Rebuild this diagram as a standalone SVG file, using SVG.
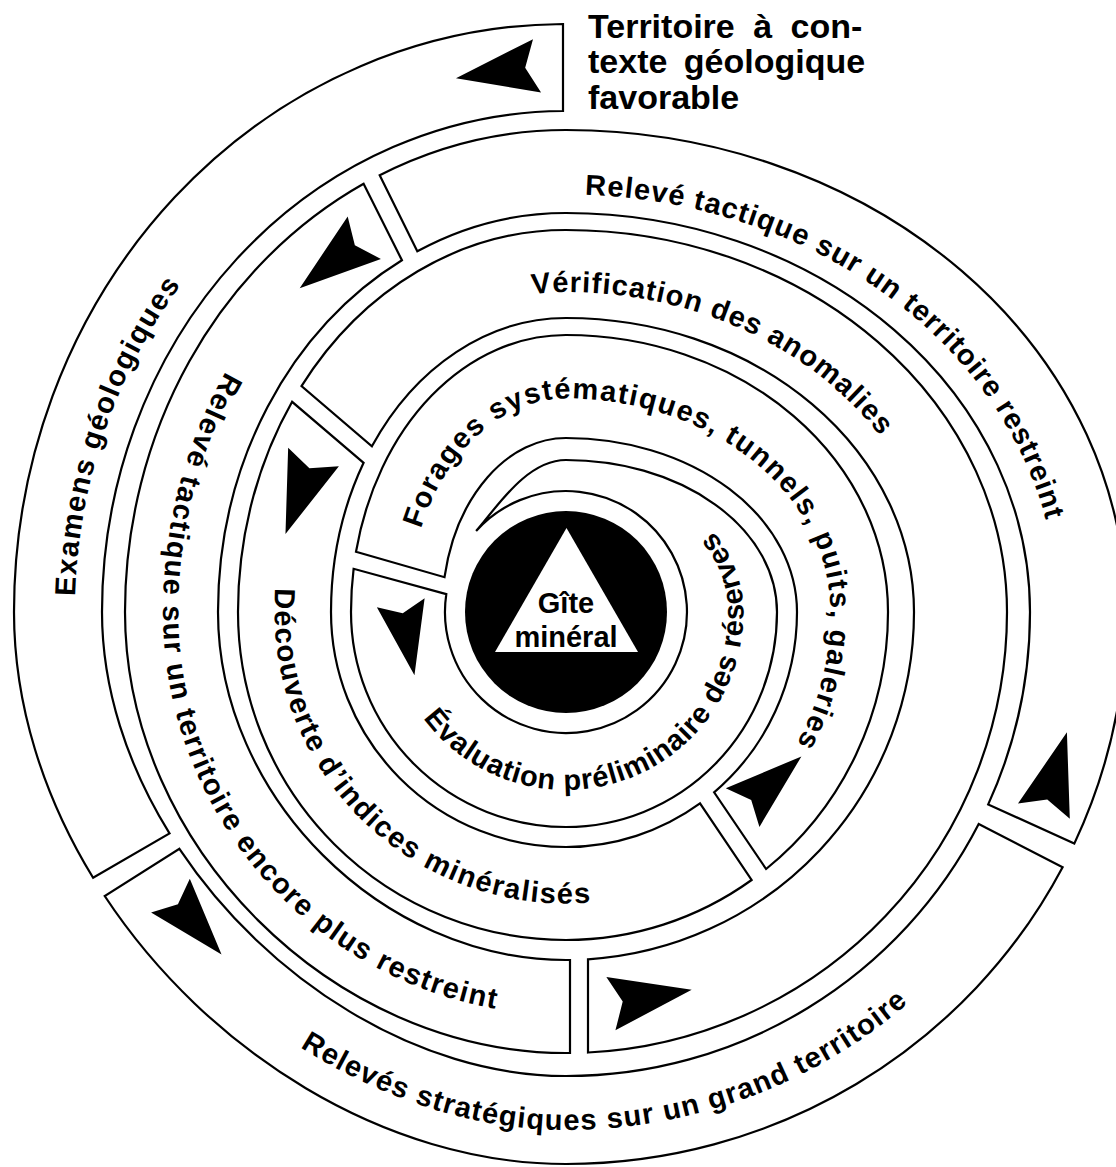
<svg xmlns="http://www.w3.org/2000/svg" width="1116" height="1167" viewBox="0 0 1116 1167">
<style>
.cell{fill:#fff;stroke:#000;stroke-width:2.2;stroke-linejoin:miter}
.lbl{font-family:"Liberation Sans",Arial,sans-serif;font-weight:bold;font-size:29px;fill:#000}
.top{font-family:"Liberation Sans",Arial,sans-serif;font-weight:bold;font-size:34px;fill:#000}
.arr{fill:#000}
</style>
<defs>
<path id="arrow" d="M41,0 L-41,-27 L-29,0 L-41,27 Z"/>
<path id="t1" d="M75.2,596.6 A491,527.5 0 0 1 181.7,283.8"/>
<path id="t2" d="M272.8,1029.2 C358.8,1089.6 461,1130 566,1130 A522,518 0 0 0 933.1,980.3"/>
<path id="t3" d="M585,194.8 A492,417.5 0 0 1 1058,612"/>
<path id="t4" d="M244.1,341.9 A403,449 0 0 0 163,612 A403,403 0 0 0 530.9,1013.5"/>
<path id="t5" d="M510.8,299.1 A263,320 0 0 1 566,292 A376,320 0 0 1 942,612"/>
<path id="t6" d="M409.8,584.5 A157.5,213.5 0 0 1 566,398.5 A264.5,213.5 0 0 1 830.5,612 A264.5,269.5 0 0 1 796.1,744.9"/>
<path id="t7" d="M275.2,588.1 A291.5,348 0 0 0 274.5,612 A291.5,291.5 0 0 0 566,903.5 A286.5,291.5 0 0 0 711.1,863.3"/>
<path id="t8" d="M420.2,714.1 A178,178 0 0 0 566,790 A177.5,178 0 0 0 743.5,612 A177.5,144.5 0 0 0 700.6,517.8"/>
</defs>
<rect width="1116" height="1167" fill="#fff"/>

<g id="node-examens">
<path class="cell" d="M563,24 A552,588 0 0 0 14,612 C14,704.9 43.5,796.6 93.1,877.8 L169.5,833.4 C127.3,765.2 102,688.6 102,612 A464,501 0 0 1 563,111 Z"/>
<text class="lbl" letter-spacing="1.5"><textPath href="#t1" startOffset="50%" text-anchor="middle">Examens géologiques</textPath></text>
</g>

<g id="node-releves-strategiques">
<path class="cell" d="M104.7,896 C207.4,1051.4 384.4,1164 566,1164 A560,552 0 0 0 1062.6,867.2 L978.7,824.1 A464,464 0 0 1 566,1076 C416.4,1076 266.8,979.5 179.4,848.8 Z"/>
<text class="lbl" letter-spacing="1.2"><textPath href="#t2" startOffset="50%" text-anchor="middle">Relevés stratégiques sur un grand territoire</textPath></text>
</g>

<g id="node-releve-restreint">
<path class="cell" d="M1074.3,843.6 A560,552 0 0 0 1126,612 A560,482 0 0 0 566,130 A441,482 0 0 0 379.7,175.2 L417.3,251.3 A348,399 0 0 1 566,213 A464,399 0 0 1 1030,612 A464,464 0 0 1 988.2,804.4 Z"/>
<text class="lbl" letter-spacing="1"><textPath href="#t3" startOffset="0">Relevé tactique sur un territoire restreint</textPath></text>
</g>

<g id="node-releve-plus-restreint">
<path class="cell" d="M363.6,183.8 A441,482 0 0 0 125,612 C125,845.7 332.3,1053 566,1053 L570,1053 L570,960 L566,960 C381.6,960 218,796.4 218,612 A348,399 0 0 1 401.9,260.2 Z"/>
<text class="lbl" letter-spacing="1.5"><textPath href="#t4" startOffset="50%" text-anchor="middle">Relevé tactique sur un territoire encore plus restreint</textPath></text>
</g>

<g id="node-verification">
<path class="cell" d="M588,1052.5 A441,441 0 0 0 1007,612 A441,382 0 0 0 566,230 A328,382 0 0 0 301.5,386.1 L371.9,446.3 A235,294 0 0 1 566,318 A348,294 0 0 1 914,612 A348,348 0 0 1 588,959.3 Z"/>
<text class="lbl" letter-spacing="1"><textPath href="#t5" startOffset="22">Vérification des anomalies</textPath></text>
</g>

<g id="node-decouverte">
<path class="cell" d="M292.1,401.8 A328,382 0 0 0 238,612 A328,328 0 0 0 566,940 A322,328 0 0 0 751.6,880 L700,803.4 A231,235 0 0 1 566,847 A235,235 0 0 1 331,612 A235,294 0 0 1 363.6,462.8 Z"/>
<text class="lbl" letter-spacing="1.5"><textPath href="#t7" startOffset="0">Découverte d’indices minéralisés</textPath></text>
</g>

<g id="node-forages">
<path class="cell" d="M766.1,869 A322,328 0 0 0 888,612 A322,277 0 0 0 566,335 A215,277 0 0 0 356,551.8 L444.5,577.2 A124,174 0 0 1 566,438 A231,174 0 0 1 797,612 A231,235 0 0 1 714.1,792.3 Z"/>
<text class="lbl" letter-spacing="1.5"><textPath href="#t6" startOffset="100%" text-anchor="end">Forages systématiques, tunnels, puits, galeries</textPath></text>
</g>

<g id="node-evaluation">
<path class="cell" d="M353.6,568.8 A215,277 0 0 0 351,612 A215,215 0 0 0 566,827 A211,215 0 0 0 777,612 A211,152 0 0 0 566,460 C526,460 496,508.7 476.1,531 A121,121 0 1 1 446.3,594.1 Z"/>
<text class="lbl" letter-spacing="0.8"><textPath href="#t8" startOffset="5">Évaluation préliminaire des réserves</textPath></text>
</g>

<g id="node-gite">
<circle cx="566" cy="612" r="101" fill="#000"/>
<path d="M566.5,528 L638,652 L495,652 Z" fill="#fff"/>
<text x="566" y="613" text-anchor="middle" font-family="Liberation Sans, Arial, sans-serif" font-weight="bold" font-size="29">Gîte</text>
<text x="566" y="647" text-anchor="middle" font-family="Liberation Sans, Arial, sans-serif" font-weight="bold" font-size="29">minéral</text>
</g>

<g id="node-territoire-label">
<text class="top" x="588" y="38" word-spacing="9">Territoire à con-</text>
<text class="top" x="588" y="73" word-spacing="7">texte géologique</text>
<text class="top" x="588" y="109">favorable</text>
</g>

<g id="connectors">
<use href="#arrow" class="arr" transform="translate(496.5,72) rotate(171.4)"/>
<use href="#arrow" class="arr" transform="translate(332,263) rotate(142)"/>
<use href="#arrow" class="arr" transform="translate(299.5,495.5) rotate(110)"/>
<use href="#arrow" class="arr" transform="translate(407.6,638.9) rotate(79.3) scale(0.9)"/>
<use href="#arrow" class="arr" transform="translate(772,782) rotate(-41) scale(0.95)"/>
<use href="#arrow" class="arr" transform="translate(1055.4,771.7) rotate(-73.7)"/>
<use href="#arrow" class="arr" transform="translate(651.3,996.7) rotate(-9.7)"/>
<use href="#arrow" class="arr" transform="translate(196,925) rotate(49) scale(0.95)"/>
</g>
</svg>
